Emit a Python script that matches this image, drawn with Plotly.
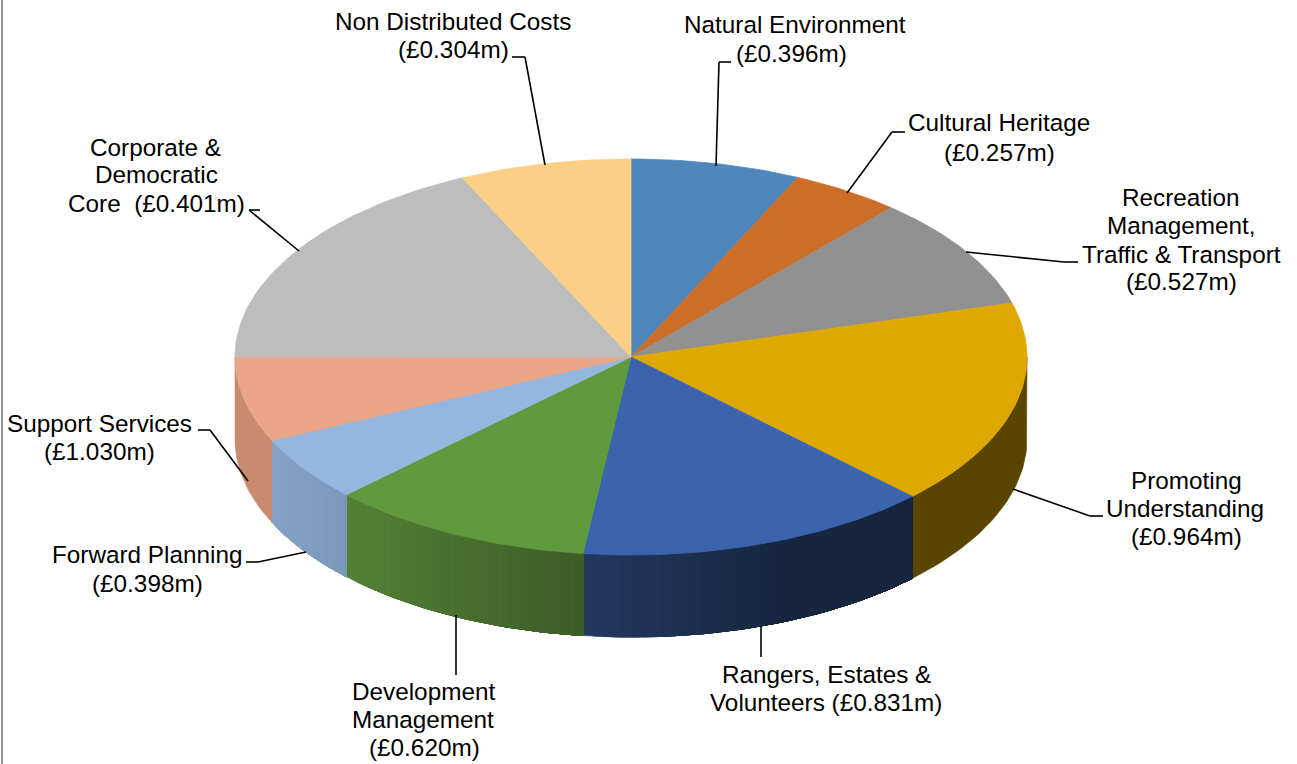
import math
import plotly.graph_objects as go

# ---- data, clockwise from 12 o'clock ----
categories = ["Natural Environment", "Cultural Heritage", "Recreation Management, Traffic & Transport",
              "Promoting Understanding", "Rangers, Estates & Volunteers", "Development Management",
              "Forward Planning", "Support Services", "Corporate & Democratic Core", "Non Distributed Costs"]
# slice sizes as drawn in the picture (£m)
slice_values = [0.396, 0.257, 0.527, 0.964, 0.831, 0.620, 0.304, 0.398, 1.030, 0.401]
top_colors = ["#4f86bb", "#cd6e28", "#919191", "#dfa800", "#3b64ad",
              "#5f9a3d", "#95b6de", "#eba587", "#bdbdbd", "#fbcf85"]
side_left = ["#3a648c", "#8f4d1c", "#656565", "#5a4500", "#24385f",
             "#538135", "#86a3c8", "#c98a70", "#8a8a8a", "#b89860"]
side_right = ["#3a648c", "#8f4d1c", "#656565", "#5a4500", "#16263f",
              "#3d5c27", "#7a98ba", "#c98a70", "#8a8a8a", "#b89860"]
gradient_span = [1, 1, 1, 1, 0.6, 1, 1, 1, 1, 1]

# label text lines with their centre positions (page pixels)
labels = [
    ("Non Distributed Costs", 453, 21), ("(£0.304m)", 453, 49),
    ("Natural Environment", 795, 25), ("(£0.396m)", 791, 53),
    ("Cultural Heritage", 999, 123), ("(£0.257m)", 999, 152),
    ("Recreation", 1181, 197), ("Management,", 1181, 225),
    ("Traffic & Transport", 1181, 254), ("(£0.527m)", 1181, 282),
    ("Promoting", 1186, 480), ("Understanding", 1185, 508), ("(£0.964m)", 1186, 536),
    ("Rangers, Estates &", 826, 674), ("Volunteers (£0.831m)", 826, 702),
    ("Development", 423, 691), ("Management", 423, 719), ("(£0.620m)", 424, 747),
    ("Forward Planning", 147, 554), ("(£0.398m)", 147, 583),
    ("Support Services", 99, 423), ("(£1.030m)", 99, 451),
    ("Corporate &", 155, 147), ("Democratic", 156, 175), ("Core  (£0.401m)", 156, 203),
]
leaders = [
    [(512, 57), (525, 57), (545, 165)],
    [(731, 62), (719, 62), (716, 166)],
    [(905, 132), (892, 132), (847, 193)],
    [(1078, 262), (1064, 262), (966, 252)],
    [(1103, 516), (1090, 516), (1013, 489)],
    [(761, 626), (761, 657)],
    [(456, 615), (456, 675)],
    [(246, 562), (258, 562), (306, 552)],
    [(198, 430), (210, 430), (248, 481)],
    [(260, 210), (249, 210), (299, 251)],
]

W, H = 1297, 764
CX, CY, RX = 631, 357, 396   # pie centre and radius in page pixels
TILT = 0.5                   # vertical squash of the disc
DEPTH = 82 / RX              # wall height in radius units


def rim(deg, drop=0.0):
    a = math.radians(deg)
    return math.sin(a), TILT * math.cos(a) - drop


def mix(c1, c2, t):
    p = [int(c1[i:i + 2], 16) for i in (1, 3, 5)]
    q = [int(c2[i:i + 2], 16) for i in (1, 3, 5)]
    return "#%02x%02x%02x" % tuple(round(a + (b - a) * t) for a, b in zip(p, q))


total = sum(slice_values)
edges = [0.0]
for v in slice_values:
    edges.append(edges[-1] + v / total * 360)

fig = go.Figure()


def poly(xs, ys, color, lw=0.8):
    fig.add_trace(go.Scatter(x=xs, y=ys, mode="lines", fill="toself", fillcolor=color,
                             line=dict(color=color, width=lw), hoverinfo="skip", showlegend=False))


def wall(a_left, a_right, color):
    """Wall from a_left (left on the page) round to a_right."""
    n = max(2, int(abs(a_left - a_right)))
    angs = [a_left + (a_right - a_left) * k / n for k in range(n + 1)]
    top = [rim(a) for a in angs]
    bot = [rim(a, DEPTH) for a in reversed(angs)]
    pts = top + bot + top[:1]
    poly([p[0] for p in pts], [p[1] for p in pts], color, 0.6)


# walls of the front half: each step is painted over the previous one, so no seams
for i, (a0, a1) in enumerate(zip(edges[:-1], edges[1:])):
    lo, hi = max(a0, 90), min(a1, 270)
    if hi <= lo:
        continue
    if side_left[i] == side_right[i]:
        wall(hi, lo, side_left[i])
        continue
    x_left, x_right = math.sin(math.radians(hi)), math.sin(math.radians(lo))
    n = 36
    for k in range(n):
        s = hi - (hi - lo) * k / n
        t = (math.sin(math.radians(s)) - x_left) / (x_right - x_left)
        wall(s, lo, mix(side_left[i], side_right[i], min(1.0, t / gradient_span[i])))

# top faces
for i, (a0, a1) in enumerate(zip(edges[:-1], edges[1:])):
    n = max(2, int((a1 - a0) / 1.0))
    pts = [rim(a0 + (a1 - a0) * k / n) for k in range(n + 1)]
    poly([0] + [p[0] for p in pts] + [0], [0] + [p[1] for p in pts] + [0], top_colors[i])

shapes = [dict(type="line", xref="paper", yref="paper", x0=2 / W, x1=2 / W, y0=0, y1=1,
               line=dict(color="#9a9a9a", width=2))]
for path in leaders:
    for (xa, ya), (xb, yb) in zip(path[:-1], path[1:]):
        shapes.append(dict(type="line", xref="paper", yref="paper", x0=xa / W, x1=xb / W,
                           y0=1 - ya / H, y1=1 - yb / H, line=dict(color="#000000", width=1.6)))

annotations = [dict(text=t, x=px / W, y=1 - py / H, xref="paper", yref="paper", showarrow=False,
                    xanchor="center", yanchor="middle",
                    font=dict(family="Liberation Sans", size=24.3, color="#000000"))
               for t, px, py in labels]

fig.update_layout(
    width=W, height=H, margin=dict(l=0, r=0, t=0, b=0),
    paper_bgcolor="#ffffff", plot_bgcolor="#ffffff", showlegend=False,
    xaxis=dict(range=[-CX / RX, (W - CX) / RX], visible=False, fixedrange=True),
    yaxis=dict(range=[(CY - H) / RX, CY / RX], visible=False, fixedrange=True),
    shapes=shapes, annotations=annotations,
)

fig.write_html("out.html", config={"displayModeBar": False},
               post_script="document.body.style.margin='0';document.body.style.overflow='hidden';")
